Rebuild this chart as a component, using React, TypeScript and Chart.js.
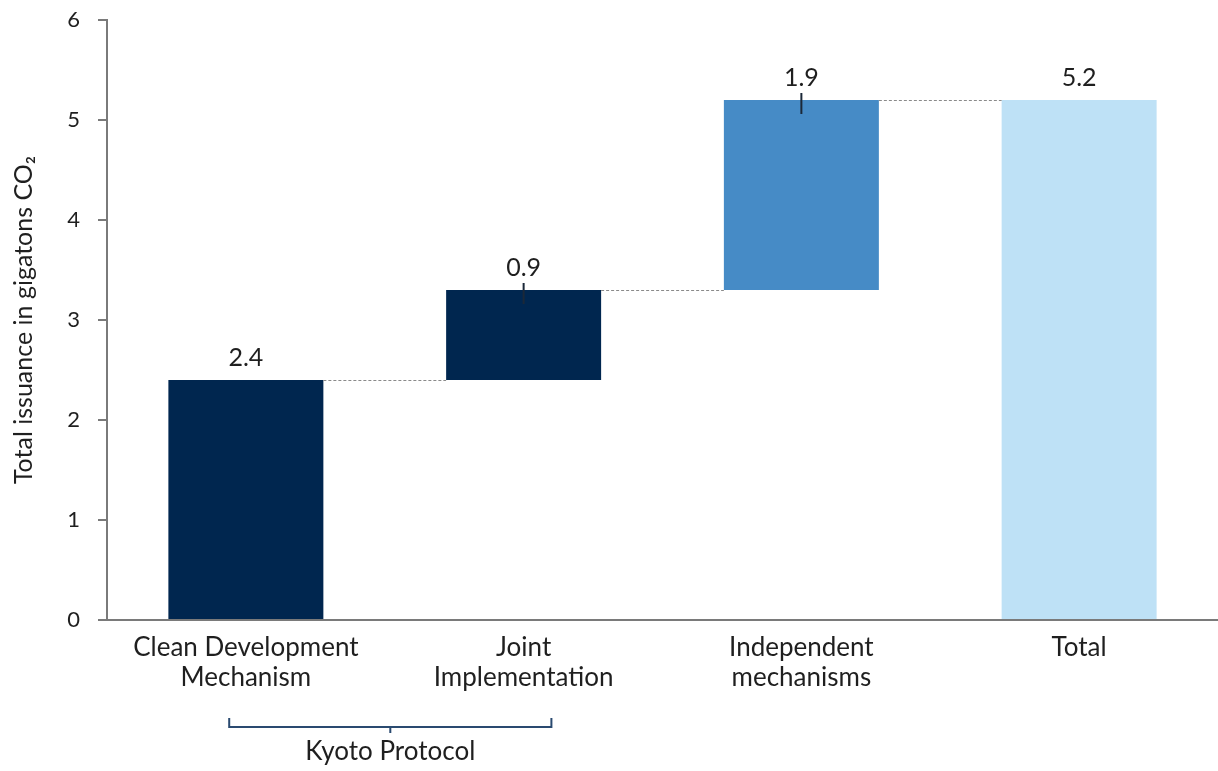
import React, { useEffect, useRef } from "react";
import { Chart, registerables } from "chart.js";

Chart.register(...registerables);

const categories: string[][] = [
  ["Clean Development", "Mechanism"],
  ["Joint", "Implementation"],
  ["Independent", "mechanisms"],
  ["Total"],
];
const increments: number[] = [2.4, 0.9, 1.9];
const totalValue = 5.2;
const barColors: string[] = ["#00264f", "#00264f", "#468bc6", "#bee1f6"];
const yTicks: number[] = [0, 1, 2, 3, 4, 5, 6];
const groupLabel = "Kyoto Protocol";

const FONT = "Lato, 'Open Sans', sans-serif";
const TEXT = "#1f1f1f";

// floating [start, end] ranges for the waterfall
function buildRanges(): [number, number][] {
  const out: [number, number][] = [];
  let run = 0;
  for (const inc of increments) {
    const start = run;
    run = Math.round((run + inc) * 100) / 100;
    out.push([start, run]);
  }
  out.push([0, totalValue]);
  return out;
}

const ranges = buildRanges();
const labelValues: number[] = [...increments, totalValue];

const waterfallDecor = {
  id: "waterfallDecor",
  afterDatasetsDraw(chart: any) {
    const { ctx } = chart;
    const x = chart.scales.x;
    const y = chart.scales.y;
    const bars = chart.getDatasetMeta(0).data;
    ctx.save();

    // dotted connectors between bars
    ctx.strokeStyle = "#8a8a8a";
    ctx.lineWidth = 1;
    ctx.setLineDash([3, 2]);
    for (let i = 0; i < bars.length - 1; i++) {
      const a = bars[i];
      const b = bars[i + 1];
      const yy = Math.round(y.getPixelForValue(ranges[i][1])) + 0.5;
      ctx.beginPath();
      ctx.moveTo(a.x + a.width / 2, yy);
      ctx.lineTo(b.x - b.width / 2, yy);
      ctx.stroke();
    }
    ctx.setLineDash([]);

    // small leader marks on the stacked increments
    ctx.strokeStyle = "#1b2838";
    ctx.lineWidth = 2;
    for (let i = 1; i < increments.length; i++) {
      const top = y.getPixelForValue(ranges[i][1]);
      ctx.beginPath();
      ctx.moveTo(bars[i].x, top - 7);
      ctx.lineTo(bars[i].x, top + 14);
      ctx.stroke();
    }

    // value labels
    ctx.fillStyle = TEXT;
    ctx.font = `25px ${FONT}`;
    ctx.textAlign = "center";
    ctx.textBaseline = "middle";
    for (let i = 0; i < bars.length; i++) {
      const top = y.getPixelForValue(ranges[i][1]);
      ctx.fillText(labelValues[i].toFixed(1), bars[i].x, top - 22);
    }

    // bracket grouping the first two categories
    const left = x.getPixelForValue(-0.06);
    const right = x.getPixelForValue(1.1);
    const mid = (left + right) / 2;
    const by = 727;
    ctx.strokeStyle = "#2a4a70";
    ctx.lineWidth = 2;
    ctx.beginPath();
    ctx.moveTo(left, by - 9);
    ctx.lineTo(left, by);
    ctx.lineTo(right, by);
    ctx.lineTo(right, by - 9);
    ctx.moveTo(mid, by);
    ctx.lineTo(mid, by + 6);
    ctx.stroke();

    ctx.fillStyle = TEXT;
    ctx.font = `26px ${FONT}`;
    ctx.fillText(groupLabel, mid, 752);
    ctx.restore();
  },
};

export default function App() {
  const canvasRef = useRef<HTMLCanvasElement | null>(null);

  useEffect(() => {
    if (!canvasRef.current) return;
    const chart = new Chart(canvasRef.current, {
      type: "bar",
      data: {
        labels: categories,
        datasets: [
          {
            data: ranges as any,
            backgroundColor: barColors,
            borderWidth: 0,
            categoryPercentage: 1,
            barPercentage: 0.558,
          },
        ],
      },
      options: {
        animation: false,
        responsive: false,
        maintainAspectRatio: false,
        layout: { padding: { top: 20, left: 0, right: 0, bottom: 0 } },
        plugins: {
          legend: { display: false },
          tooltip: { enabled: false },
        },
        scales: {
          x: {
            grid: { display: false, drawTicks: false },
            border: { display: true, color: "#7a7a7a", width: 2 },
            ticks: {
              color: TEXT,
              font: { family: FONT, size: 26, lineHeight: 1.15 },
              padding: 13,
              maxRotation: 0,
              autoSkip: false,
            },
            afterFit(scale: any) {
              scale.height = 151;
              scale.paddingLeft = 0;
              scale.paddingRight = 0;
            },
          },
          y: {
            min: 0,
            max: 6,
            afterBuildTicks(scale: any) {
              scale.ticks = yTicks.map((v) => ({ value: v }));
            },
            grid: {
              drawOnChartArea: false,
              drawTicks: true,
              tickLength: 9,
              color: "#7a7a7a",
              lineWidth: 2,
            },
            border: { display: true, color: "#7a7a7a", width: 2 },
            ticks: {
              color: TEXT,
              font: { family: FONT, size: 22 },
              padding: 18,
            },
            title: {
              display: true,
              text: "Total issuance in gigatons CO₂",
              color: TEXT,
              font: { family: FONT, size: 25 },
              padding: { top: 9, bottom: 0 },
            },
            afterFit(scale: any) {
              scale.width = 107;
              scale.paddingTop = 0;
              scale.paddingBottom = 0;
            },
          },
        },
      },
      plugins: [waterfallDecor],
    });
    return () => chart.destroy();
  }, []);

  return (
    <div style={{ position: "fixed", left: 0, top: 0, width: 1218, height: 771, background: "#fff" }}>
      <canvas ref={canvasRef} width={1218} height={771} style={{ display: "block" }} />
    </div>
  );
}
